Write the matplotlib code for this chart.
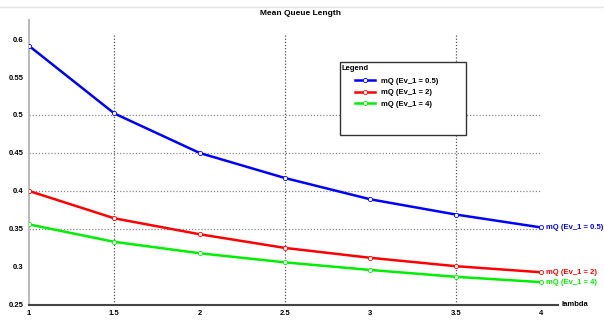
import numpy as np
import matplotlib.pyplot as plt
from matplotlib.patches import Rectangle

lam = [1, 1.5, 2, 2.5, 3, 3.5, 4]
mq_05 = [0.591, 0.502, 0.450, 0.417, 0.389, 0.369, 0.352]
mq_2 = [0.400, 0.364, 0.343, 0.325, 0.312, 0.301, 0.293]
mq_4 = [0.356, 0.333, 0.318, 0.306, 0.296, 0.287, 0.280]
names = ['mQ (Ev_1 = 0.5)', 'mQ (Ev_1 = 2)', 'mQ (Ev_1 = 4)']
xticks = [1, 1.5, 2, 2.5, 3, 3.5, 4]
yticks = [0.25, 0.3, 0.35, 0.4, 0.45, 0.5, 0.55, 0.6]

plt.rcParams['font.family'] = ['Liberation Sans', 'DejaVu Sans']
plt.rcParams['font.weight'] = 'bold'

fig = plt.figure(figsize=(6.04, 3.23), dpi=100)
fig.add_artist(plt.Line2D([0, 1], [0.978, 0.978], color='#e4e4e4', lw=1))
ax = fig.add_axes([0.048, 0.056, 0.876, 0.882])

# dotted grid (only some lines, like the original)
for gx in [1.5, 2.5, 3.5]:
    ax.axvline(gx, ymax=0.95, color='#555555', ls=(0, (1, 1.5)), lw=0.9, zorder=1)
for gy in [0.35, 0.4, 0.45, 0.5]:
    ax.plot([1, 4], [gy, gy], color='#888888', ls=(0, (1, 1.5)), lw=0.9, zorder=1)

cols = ['#0000ff', '#ff0000', '#00ee00']
for ys, c, n in zip([mq_05, mq_2, mq_4], cols, names):
    ax.plot(lam, ys, color=c, lw=1.8, marker='o', ms=3, mfc='white', mec=c,
            mew=0.6, label=n, zorder=3)
    ax.text(lam[-1] + 0.03, ys[-1], n, color=c, fontsize=5.5, va='center')

ax.set_xlim(1, 4.1)
ax.set_ylim(0.25, 0.625)
ax.set_xticks(xticks)
ax.set_xticklabels([str(t) for t in xticks])
ax.set_yticks(yticks)
ax.set_yticklabels(['0.25', '0.3', '0.35', '0.4', '0.45', '0.5', '0.55', '0.6'])
ax.tick_params(labelsize=5.5, length=0, pad=4)
for s in ['top', 'right']:
    ax.spines[s].set_visible(False)
ax.spines['left'].set_color('#bbbbbb')
ax.spines['left'].set_linewidth(1.5)
ax.spines['bottom'].set_color('#444444')
ax.spines['bottom'].set_linewidth(1.5)

fig.text(0.497, 0.957, 'Mean Queue Length', fontsize=6, fontweight='bold',
         ha='center', va='center')
ax.text(4.12, 0.25, 'lambda', fontsize=5.5, va='center', ha='left')

# legend box drawn by hand, bigger than its contents
box = Rectangle((340 / 604, 1 - 135 / 323), 126 / 604, 73 / 323,
                transform=fig.transFigure, facecolor='white',
                edgecolor='#333333', lw=1, zorder=4, clip_on=False)
ax.add_patch(box)
ax.text(342 / 604, 1 - 68 / 323, 'Legend', fontsize=5.5, va='center', ha='left',
        transform=fig.transFigure, zorder=6)
leg = ax.legend(loc='upper left', bbox_to_anchor=(350 / 604, 1 - 72 / 323),
                bbox_transform=fig.transFigure, fontsize=5.5, frameon=False,
                borderpad=0.2, handlelength=2.6, handletextpad=0.8,
                labelspacing=0.55)
leg.set_zorder(6)

plt.savefig('out.png', dpi=100)
